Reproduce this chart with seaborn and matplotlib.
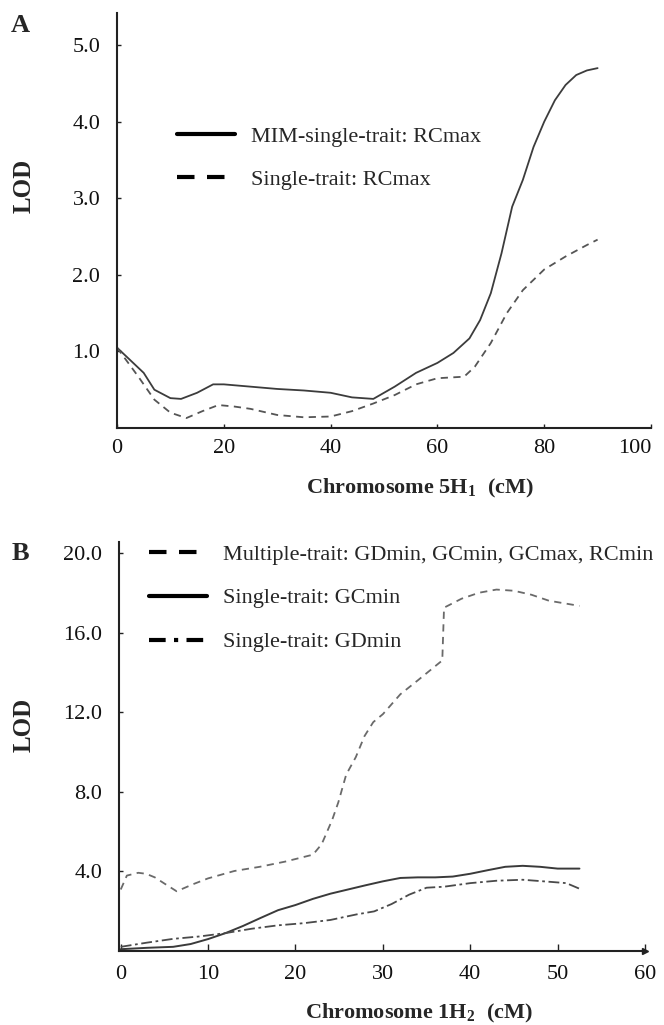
import numpy as np
import pandas as pd
import matplotlib
matplotlib.use("Agg")
import matplotlib.pyplot as plt
from matplotlib.lines import Line2D
import seaborn as sns

# ---------------- data ----------------
a_x = [0, 5, 7, 10, 12, 15, 18, 20, 25, 30, 35, 40, 44, 48, 52, 56, 60, 63, 66, 68, 70, 72, 74, 76, 78, 80, 82, 84, 86, 88, 90]
a_mim = [1.05, 0.72, 0.50, 0.39, 0.38, 0.46, 0.57, 0.57, 0.54, 0.51, 0.49, 0.46, 0.40, 0.38, 0.54, 0.72, 0.85, 0.98, 1.17, 1.41, 1.76, 2.28, 2.89, 3.24, 3.67, 4.00, 4.28, 4.48, 4.61, 4.67, 4.70]
a_sx = [0, 4, 7, 10, 13, 16, 19, 22, 25, 30, 35, 40, 44, 48, 52, 56, 60, 65, 67, 70, 73, 76, 80, 84, 88, 90]
a_single = [1.05, 0.67, 0.37, 0.20, 0.13, 0.22, 0.30, 0.28, 0.25, 0.17, 0.14, 0.15, 0.22, 0.32, 0.43, 0.57, 0.65, 0.67, 0.80, 1.11, 1.50, 1.80, 2.07, 2.24, 2.39, 2.46]

b_mx = [0, 0.7, 2, 2.9, 3.9, 5.1, 6.4, 8.3, 10, 13, 15.9, 18.8, 22, 23, 24.2, 24.9, 25.8, 26.9, 27.9, 28.9, 30, 32, 34, 36.8, 37.0, 39, 41, 43, 45, 47, 49, 52.5]
b_multi = [3.09, 3.79, 3.93, 3.88, 3.70, 3.36, 3.00, 3.36, 3.65, 4.02, 4.23, 4.49, 4.84, 5.37, 6.59, 7.47, 8.86, 9.74, 10.8, 11.5, 11.9, 12.9, 13.6, 14.6, 17.25, 17.7, 18.0, 18.16, 18.1, 17.9, 17.6, 17.34]
b_gx = [0, 3, 6, 8, 10, 12, 14, 16, 18, 20, 22, 24, 26, 28, 30, 32, 34, 36, 38, 40, 42, 44, 46, 48, 50, 52.5]
b_gcmin = [0.09, 0.16, 0.21, 0.35, 0.60, 0.90, 1.26, 1.66, 2.05, 2.31, 2.62, 2.88, 3.09, 3.30, 3.50, 3.67, 3.70, 3.70, 3.74, 3.88, 4.06, 4.23, 4.28, 4.23, 4.14, 4.14]
b_dx = [0, 3, 6, 9, 12, 15, 18, 21, 24, 27, 29, 31, 33, 35, 37, 40, 43, 46, 49, 51, 52.5]
b_gdmin = [0.21, 0.42, 0.61, 0.73, 0.90, 1.12, 1.29, 1.40, 1.56, 1.84, 1.99, 2.36, 2.83, 3.18, 3.23, 3.41, 3.53, 3.58, 3.48, 3.41, 3.13]

a_xticks = [0, 20, 40, 60, 80, 100]
a_yticks = [1.0, 2.0, 3.0, 4.0, 5.0]
b_xticks = [0, 10, 20, 30, 40, 50, 60]
b_yticks = [4.0, 8.0, 12.0, 16.0, 20.0]

a_labels = ["MIM-single-trait: RCmax", "Single-trait: RCmax"]
b_labels = ["Multiple-trait: GDmin, GCmin, GCmax, RCmin", "Single-trait: GCmin", "Single-trait: GDmin"]

# ---------------- style ----------------
sns.set_theme(style="ticks")
plt.rcParams["font.family"] = ["Liberation Serif", "DejaVu Serif"]
plt.rcParams["mathtext.fontset"] = "custom"
plt.rcParams["mathtext.rm"] = "Liberation Serif"
plt.rcParams["mathtext.bf"] = "Liberation Serif:bold"
FS = 16

fig = plt.figure(figsize=(6.64, 10.25), dpi=100)
axA = fig.add_axes([117/664, 1-428/1025, (651-117)/664, (428-13)/1025])
axB = fig.add_axes([119/664, 1-951/1025, (645-119)/664, (951-542)/1025])

for ax in (axA, axB):
    sns.despine(ax=ax)
    ax.spines["left"].set_linewidth(1.5)
    ax.spines["bottom"].set_linewidth(1.5)
    ax.spines["left"].set_color("#222222")
    ax.spines["bottom"].set_color("#222222")
    ax.tick_params(direction="in", length=3, width=1, colors="#222222",
                   labelsize=FS, labelcolor="#111111")
    ax.tick_params(axis="y", pad=12)
    ax.tick_params(axis="x", pad=8)

# ---------------- panel A ----------------
dfa1 = pd.DataFrame({"x": a_x, "y": a_mim})
dfa2 = pd.DataFrame({"x": a_sx, "y": a_single})
sns.lineplot(data=dfa1, x="x", y="y", ax=axA, color="#3c3c3c", lw=1.3, estimator=None)
sns.lineplot(data=dfa2, x="x", y="y", ax=axA, color="#555555", lw=1.3, estimator=None,
             linestyle=(0, (4, 3)))
axA.set_xlim(0, 100)
axA.set_ylim(0, 5.42)
axA.set_xticks(a_xticks)
axA.set_xticklabels([str(t) for t in a_xticks])
axA.get_xticklabels()[-1].set_horizontalalignment("right")
axA.set_yticks(a_yticks)
axA.set_yticklabels([f"{t:.1f}" for t in a_yticks])
axA.set_xlabel("Chromosome 5H$_{\\mathbf{1}}$  (cM)", fontsize=FS, fontweight="bold")
axA.xaxis.set_label_coords(0.567, -0.118)
axA.set_ylabel("LOD", fontsize=18, fontweight="bold")
axA.yaxis.set_label_coords(-0.152, 0.583)

hA = [Line2D([], [], color="black", lw=3.0),
      Line2D([], [], color="black", lw=3.0, linestyle=(0, (4.2, 3)))]
axA.legend(hA, a_labels, loc="upper left", bbox_to_anchor=(0.112, 0.726),
           frameon=False, fontsize=FS, handlelength=2.6, handletextpad=0.75,
           labelspacing=1.0, borderpad=0, borderaxespad=0)

# ---------------- panel B ----------------
dfb1 = pd.DataFrame({"x": b_mx, "y": b_multi})
dfb2 = pd.DataFrame({"x": b_gx, "y": b_gcmin})
dfb3 = pd.DataFrame({"x": b_dx, "y": b_gdmin})
sns.lineplot(data=dfb1, x="x", y="y", ax=axB, color="#6a6a6a", lw=1.3, estimator=None,
             linestyle=(0, (4, 3)))
sns.lineplot(data=dfb2, x="x", y="y", ax=axB, color="#3a3a3a", lw=1.4, estimator=None)
sns.lineplot(data=dfb3, x="x", y="y", ax=axB, color="#4a4a4a", lw=1.3, estimator=None,
             linestyle=(0, (6, 2, 1.5, 2)))
axB.set_xlim(-0.2, 60)
axB.set_ylim(0, 20.55)
axB.set_xticks(b_xticks)
axB.set_xticklabels([str(t) for t in b_xticks])
axB.set_yticks(b_yticks)
axB.set_yticklabels([f"{t:.1f}" for t in b_yticks])
axB.tick_params(axis="x", length=5, pad=10)
axB.plot(1, 0, marker=">", color="#222222", ms=5, transform=axB.get_yaxis_transform(),
         clip_on=False)
axB.set_xlabel("Chromosome 1H$_{\\mathbf{2}}$  (cM)", fontsize=FS, fontweight="bold")
axB.xaxis.set_label_coords(0.570, -0.125)
axB.set_ylabel("LOD", fontsize=18, fontweight="bold")
axB.yaxis.set_label_coords(-0.158, 0.553)

hB = [Line2D([], [], color="black", lw=3.0, linestyle=(0, (4.2, 3))),
      Line2D([], [], color="black", lw=3.0),
      Line2D([], [], color="black", lw=3.0, linestyle=(0, (4, 2, 1, 2)))]
axB.legend(hB, b_labels, loc="upper left", bbox_to_anchor=(0.057, 0.995),
           frameon=False, fontsize=FS, handlelength=2.6, handletextpad=0.75,
           labelspacing=1.05, borderpad=0, borderaxespad=0)

fig.text(20/664, 1-25/1025, "A", fontsize=19, fontweight="bold", ha="center", va="center")
fig.text(20/664, 1-553/1025, "B", fontsize=19, fontweight="bold", ha="center", va="center")

fig.savefig("out.png", dpi=100)
